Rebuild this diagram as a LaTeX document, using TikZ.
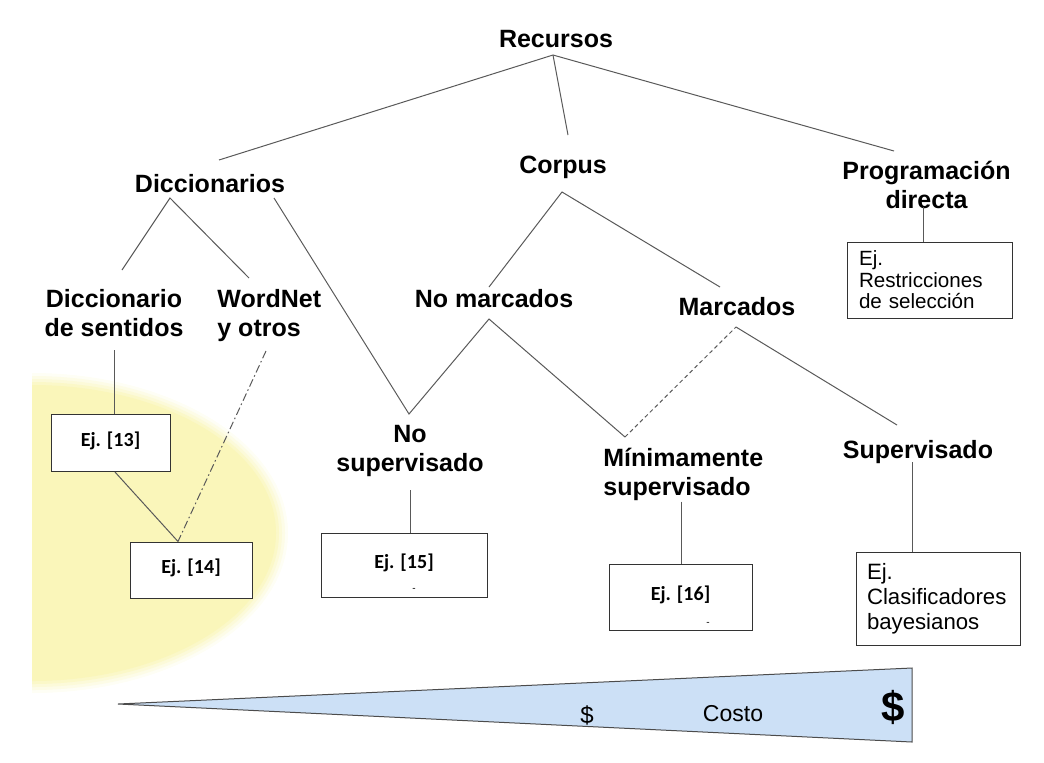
\documentclass[tikz,border=0pt]{standalone}
\usepackage{fontspec}
\setmainfont{Liberation Sans}
\newfontfamily\calibrifont{Carlito}
\usepackage{tikz}
\usetikzlibrary{calc}
\definecolor{yellowbg}{RGB}{250,246,186}
\definecolor{costblue}{RGB}{204,224,246}
\colorlet{linecol}{black!65}
\tikzstyle{cat}=[inner sep=0pt, font=\bfseries\fontsize{12.5}{14.5}\selectfont]
\tikzstyle{ejbox}=[draw=black!80, fill=white, line width=0.5pt, inner sep=0pt, font=\calibrifont\bfseries\fontsize{10}{12}\selectfont, text height=0.75em, text depth=0.45em]
\tikzstyle{exbox}=[draw=black!80, fill=white, line width=0.5pt, inner ysep=0pt, align=left, font=\fontsize{10.3}{10.8}\selectfont]
\tikzstyle{conn}=[draw=linecol, line width=0.5pt]

\begin{document}
\begin{tikzpicture}[x=0.5pt, y=-0.5pt]
    \useasboundingbox (0,0) rectangle (1044,762);

    % shaded area behind the dictionary examples, soft edge
    \begin{scope}
        \clip (32,300) rectangle (400,720);
        \foreach \r/\c in {12/15, 9/35, 6/55, 3/80, 0/100} {
            \fill[yellowbg!\c!white] (32,533) ellipse [x radius=244+\r, y radius=148+\r];
        }
    \end{scope}

    % categories
    \node[cat, anchor=base] (rec) at (556,47) {Recursos};
    \node[cat, anchor=base] (dic) at (210,192) {Diccionarios};
    \node[cat, anchor=base] (cor) at (563,173) {Corpus};
    \node[cat, align=center] (prog) at (926.5,185) {Programación\\directa};
    \node[cat, align=center] (dsen) at (114,313.4) {Diccionario\\de sentidos};
    \node[cat, align=left, anchor=west] (wn) at (217,316) {WordNet\\y otros};
    \node[cat, anchor=base] (nomar) at (494,307) {No marcados};
    \node[cat, anchor=base] (mar) at (737,315) {Marcados};
    \node[cat, align=center] (nosup) at (410,451) {No\\supervisado};
    \node[cat, align=left, anchor=west] (minsup) at (603,474.7) {Mínimamente\\supervisado};
    \node[cat, anchor=base] (sup) at (918,458) {Supervisado};

    % examples
    \node[ejbox, minimum width=59.5pt, minimum height=28.5pt] (e13) at (110.5,443) {Ej. [13]};
    \node[ejbox, minimum width=61pt, minimum height=28pt] (e14) at (191,570) {Ej. [14]};
    \node[ejbox, minimum width=83pt, minimum height=32pt] (e15) at (404,565) {Ej. [15]};
    \node[ejbox, minimum width=71.5pt, minimum height=33pt] (e16) at (680.5,597) {Ej. [16]};
    \node[font=\tiny, inner sep=0pt] (e15d) at ($(e15.south)+(10,-8)$) {-};
    \node[font=\tiny, inner sep=0pt] (e16d) at ($(e16.south)+(27.5,-7)$) {-};
    \node[exbox, inner xsep=6pt, text width=70.5pt, minimum height=38pt] (erest) at (929.5,280) {Ej.\\Restricciones\\de selección};
    \node[exbox, inner xsep=5.5pt, text width=71pt, minimum height=46.5pt, font=\fontsize{11.1}{12.5}\selectfont] (eclas) at (938,598.5) {Ej.\\Clasificadores\\bayesianos};

    % tree
    \draw[conn] ($(rec.base)+(-3,8)$) -- ($(dic.base)+(9,-32)$);
    \draw[conn] ($(rec.base)+(-3,8)$) -- ($(cor.base)+(5,-38)$);
    \draw[conn] ($(rec.base)+(-3,8)$) -- ($(prog)+(-32.5,-34)$);
    \draw[conn] ($(dsen)+(8,-43.4)$) -- ($(dic.base)+(-40,6)$) -- ($(wn.west)+(32,-38)$);
    \draw[conn] ($(dic.base)+(64,6)$) -- ($(nosup)+(-1,-37)$) -- ($(nomar.base)+(-5,12)$) -- ($(minsup.west)+(22,-37.7)$);
    \draw[conn] ($(nomar.base)+(-5,-20)$) -- ($(cor.base)+(-1,19)$) -- ($(mar.base)+(-17,-28)$);
    \draw[conn, dash pattern=on 2pt off 1.5pt] ($(minsup.west)+(22,-37.7)$) -- ($(mar.base)+(-1,12)$);
    \draw[conn] ($(mar.base)+(-1,12)$) -- ($(sup.base)+(-21,-33)$);

    \foreach \from/\dx/\dy/\to in {prog/-3.5/22/erest, dsen/0/37/e13, nosup/0/39/e15,
        minsup.west/78/27/e16, sup.base/-6/4/eclas} {
        \draw[conn] ($(\from)+(\dx,\dy)$) coordinate (drop) -- (drop |- \to.north);
    }
    \draw[conn] ($(e13.south)+(4.5,0)$) -- ($(e14.north)+(-13,0)$);
    \draw[conn, dash pattern=on 4pt off 1.5pt on 0.8pt off 1.5pt] ($(wn.west)+(49,35)$) -- ($(e14.north)+(-13,0)$);

    % cost wedge
    \draw[fill=costblue, draw=black!70, line width=0.5pt] (118,704) -- (912,668) -- (912,742) -- cycle;
    \node[font=\fontsize{12}{14}\selectfont] (lowcost) at (587,715) {\$};
    \node[font=\fontsize{11.5}{14}\selectfont] (costo) at (733,714) {Costo};
    \node[font=\bfseries\fontsize{21}{24}\selectfont] (highcost) at (893,707) {\$};

\end{tikzpicture}
\end{document}
